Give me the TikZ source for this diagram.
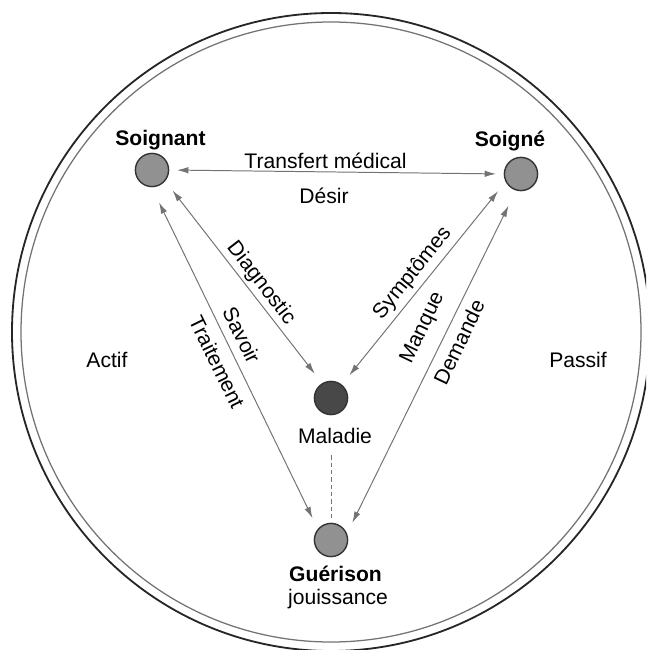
\documentclass[tikz,border=0pt]{standalone}
\usepackage{fontspec}
\setmainfont{Liberation Sans}
\usetikzlibrary{arrows.meta}
\definecolor{linkgray}{RGB}{115,115,115}
\definecolor{dotgray}{RGB}{145,145,145}
\definecolor{sickgray}{RGB}{72,72,72}

\begin{document}
\begin{tikzpicture}[x=0.025cm, y=-0.025cm, >={Latex[length=8pt, width=4.6pt]},
    every node/.style={font=\fontsize{15}{18}\selectfont, inner sep=0pt},
    agent/.style={circle, draw=black!80, line width=1pt, fill=dotgray, minimum size=0.83cm},
    rolebold/.style={font=\fontsize{15}{18}\selectfont\bfseries},
    link/.style={<->, linkgray, line width=0.7pt, shorten <=8.5pt, shorten >=8.5pt}]
    \useasboundingbox (0,0) rectangle (646,650);
    \clip (0,0) rectangle (646,650);
    \draw[black!85, line width=1.3pt] (331,332) circle[radius=319];
    \draw[black!55, line width=0.9pt] (331,332) circle[radius=310];

    \node[agent] (soignant) at (152,170) {};
    \node[agent] (soigne) at (521,174) {};
    \node[agent, fill=sickgray] (maladie) at (331,398) {};
    \node[agent] (guerison) at (331,540) {};

    \node[rolebold, anchor=base] (soignantlbl) at (160.5,145) {Soignant};
    \node[rolebold, anchor=base] (soignelbl) at (510,146) {Soigné};
    \node[anchor=base] (maladielbl) at (335,443) {Maladie};
    \node[rolebold, anchor=base] (guerisonlbl) at (335.5,581) {Guérison};
    \node[anchor=base] (jouissance) at (338,604) {jouissance};
    \node[anchor=base] (actif) at (107,367) {Actif};
    \node[anchor=base] (passif) at (578,367) {Passif};

    \draw[link, shorten <=5.5pt, shorten >=5.5pt] (soignant.east) -- (soigne.west);
    \node[anchor=base] (transfert) at (325.5,168) {Transfert médical};
    \node[anchor=base] (desir) at (324,203) {Désir};

    \draw[link] (soignant.-40) -- (maladie.121);
    \draw[link, shorten <=12pt] (soignant.-91) -- (guerison.140);
    \draw[link] (soigne.207) -- (maladie.51);
    \draw[link, shorten <=12pt] (soigne.253) -- (guerison.22);
    \draw[linkgray, line width=0.6pt, dash pattern=on 3pt off 2.2pt, shorten <=8.5pt, shorten >=2pt]
      (maladielbl.south -| guerison.north) -- (guerison.north);

    \node[rotate=-52.3] (diagnostic) at (260.8,283.3) {Diagnostic};
    \node[rotate=-64] (savoir) at (241.7,335) {Savoir};
    \node[rotate=-64] (traitement) at (217,362) {Traitement};
    \node[rotate=51.2] (symptomes) at (412.5,273.3) {Symptômes};
    \node[rotate=64.4] (manque) at (423,328) {Manque};
    \node[rotate=64.4] (demande) at (459,342) {Demande};
\end{tikzpicture}
\end{document}
